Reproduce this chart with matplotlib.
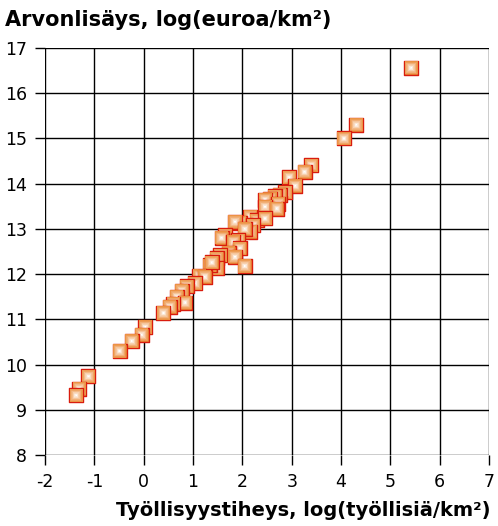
import matplotlib
matplotlib.use("Agg")
import matplotlib.pyplot as plt
import numpy as np
from matplotlib.colors import to_rgb

# Data
tyollisyystiheys = [5.42, 4.31, 4.06, 3.40, 3.26, 2.95, 3.07, 2.87, 2.76, 2.66,
                    2.56, 2.46, 2.73, 2.46, 2.70, 2.16, 2.29, 2.46, 1.95, 1.85,
                    2.22, 2.16, 2.05, 1.65, 1.58, 1.92, 1.82, 1.95, 1.72, 1.55,
                    1.48, 1.85, 2.05, 1.48, 1.34, 1.38, 1.13, 1.24, 1.04, 0.87,
                    0.77, 0.67, 0.84, 0.60, 0.53, 0.40, 0.03, -0.04, -0.24, -0.49,
                    -1.12, -1.31, -1.37]
arvonlisays = [16.56, 15.30, 15.00, 14.41, 14.26, 14.14, 13.95, 13.81, 13.76, 13.72,
               13.67, 13.65, 13.56, 13.49, 13.45, 13.27, 13.19, 13.23, 13.14, 13.16,
               13.08, 12.94, 13.00, 12.86, 12.80, 12.75, 12.71, 12.57, 12.47, 12.42,
               12.35, 12.38, 12.18, 12.13, 12.20, 12.26, 11.96, 11.94, 11.80, 11.73,
               11.63, 11.50, 11.37, 11.35, 11.28, 11.14, 10.83, 10.66, 10.52, 10.30,
               9.74, 9.47, 9.32]
x_ticks = [-2, -1, 0, 1, 2, 3, 4, 5, 6, 7]
y_ticks = [8, 9, 10, 11, 12, 13, 14, 15, 16, 17]
y_label = "Arvonlisäys, log(euroa/km²)"
x_label = "Työllisyystiheys, log(työllisiä/km²)"

fig = plt.figure(figsize=(4.98, 5.26), dpi=100)
ax = fig.add_axes([0.0904, 0.135, 0.8916, 0.7737])
ax.set_xlim(-2, 7)
ax.set_ylim(8, 17)
ax.set_xticks(x_ticks)
ax.set_yticks(y_ticks)
ax.set_xticklabels([str(v) for v in x_ticks], fontsize=12.5)
ax.set_yticklabels([str(v) for v in y_ticks], fontsize=12.5)
ax.grid(True, color="black", linewidth=1.0, zorder=0)
ax.set_axisbelow(True)
for s in ax.spines.values():
    s.set_visible(False)
ax.tick_params(axis="both", direction="out", length=7, width=1.0, color="black", pad=6)

# gradient squares
outer = np.array(to_rgb("#EA8A36"))
inner = np.array([1.0, 1.0, 1.0])
n_layers = 12
sizes_pt = np.linspace(10.3, 0.8, n_layers)
cols = [tuple(outer + (inner - outer) * (k / (n_layers - 1)) ** 1.1) for k in range(n_layers)]
for i, (x, y) in enumerate(zip(tyollisyystiheys, arvonlisays)):
    z = 3 + i * 0.01
    ax.scatter([x], [y], s=[sizes_pt[0] ** 2], marker="s", facecolor=[cols[0]],
               edgecolor="#D91C0E", linewidth=1.0, zorder=z)
    ax.scatter([x] * (n_layers - 1), [y] * (n_layers - 1), s=sizes_pt[1:] ** 2,
               marker="s", c=cols[1:], edgecolors="none", linewidth=0, zorder=z + 0.001)

fig.text(0.01, 0.962, y_label, fontsize=15, fontweight="bold", ha="left", va="center")
fig.text(0.985, 0.03, x_label, fontsize=14, fontweight="bold", ha="right", va="center")

fig.savefig("out.png", dpi=100)
